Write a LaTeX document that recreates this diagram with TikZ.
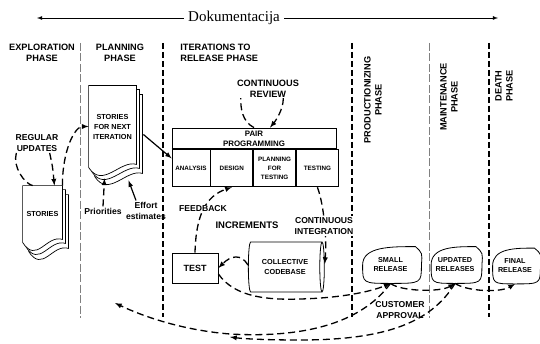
\documentclass[tikz,border=0pt]{standalone}
\usepackage{fontspec}
\setmainfont{Liberation Serif}
\setsansfont{Liberation Sans}
\usetikzlibrary{positioning}
\usetikzlibrary{shapes}
\usetikzlibrary{backgrounds}

% stacked pages with a wavy lower edge, drawn behind a node
\newcommand{\docstack}[1]{%
  \foreach \dx/\dy in {6/-9,3/-4,0/0}{
    \filldraw[fill=white,line width=0.7pt]
      ([shift={(\dx,\dy)}]#1.north west) -- ([shift={(\dx,\dy)}]#1.north east)
      -- ([shift={(\dx,\dy+3)}]#1.south east)
      .. controls ([shift={(\dx-16,\dy+8)}]#1.south east) and ([shift={(\dx+14,\dy-22)}]#1.south west)
      .. ([shift={(\dx,\dy)}]#1.south west) -- cycle;
  }}

% release outline, pointed at the upper right
\newcommand{\releaseblob}[1]{%
  \draw[line width=0.8pt] ([xshift=-3]#1.north east) .. controls (#1.north) and (#1.north west) .. (#1.west)
    .. controls (#1.south west) .. (#1.south)
    .. controls ([xshift=3]#1.south east) .. ([xshift=3]#1.east)
    .. controls ([shift={(4,12)}]#1.east) .. ([xshift=-3]#1.north east) -- cycle;}

\begin{document}
\begin{tikzpicture}[x=1pt,y=1pt,>=latex,node distance=0pt,line width=0.8pt]
\tikzstyle{phase} = [font=\sffamily\bfseries\fontsize{9.2}{11}\selectfont, align=center, inner sep=0pt]
\tikzstyle{note} = [font=\sffamily\bfseries\fontsize{8.6}{11}\selectfont, align=center, inner sep=1pt]
\tikzstyle{doctext} = [font=\sffamily\bfseries\fontsize{7.3}{10}\selectfont, align=center, inner sep=0pt]
\tikzstyle{cell} = [draw, minimum height=37, inner sep=0pt, align=center, font=\sffamily\bfseries\fontsize{6.3}{9}\selectfont]
\tikzstyle{blob} = [align=center, inner sep=0pt, minimum height=36, font=\sffamily\bfseries\fontsize{7.2}{9}\selectfont]
\tikzstyle{flow} = [dash pattern=on 7pt off 4pt, line width=1.3pt]
\tikzstyle{phaseline} = [dash pattern=on 6pt off 3pt, line width=1.4pt]

\useasboundingbox (0,0) rectangle (540,343);

% documentation
\node[fill=white, inner xsep=4pt, inner ysep=0pt, font=\fontsize{15}{15}\selectfont] (doku) at (234,325) {Dokumentacija};
\coordinate (docleft) at (37,325);
\coordinate (docright) at (498,325);
\draw[->] (doku) -- (docleft);
\draw[->] (doku) -- (docright);

% phases
\node[phase] (explore) at (42,290.5) {EXPLORATION\\PHASE};
\node[phase] (planning) at (120,290.5) {PLANNING\\PHASE};
\node[phase, anchor=west, align=left] (iterate) at (180,290.5) {ITERATIONS TO\\RELEASE PHASE};
\node[phase, rotate=90] (product) at (373,243) {PRODUCTIONIZING\\PHASE};
\node[phase, rotate=90] (maintain) at (449,246) {MAINTENANCE\\PHASE};
\node[phase, rotate=90] (death) at (504,257) {DEATH\\PHASE};
\foreach \x in {163,352,489}
  \draw[phaseline] (\x,300) -- (\x,26);
\foreach \x in {80,429}
  \draw[phaseline, gray, line width=1pt, dash pattern=on 8pt off 2.5pt] (\x,300) -- (\x,25);

% exploration
\node[doctext, minimum width=39, minimum height=56] (stories) at (42.5,129) {STORIES};
\node[note] (updates) at (37,200) {REGULAR\\UPDATES};
\draw[flow] ([xshift=2]updates.south west) .. controls +(-4,-14) and +(-8,2) .. ([xshift=10]stories.north west);
\draw[flow,->] ([xshift=-10]updates.south east) .. controls +(3,-14) .. ([xshift=-8]stories.north east);

% planning
\node[doctext, minimum width=47, minimum height=81] (plan) at (112.5,216.5) {STORIES\\FOR NEXT\\ITERATION};
\begin{scope}[on background layer]
  \docstack{stories}
  \docstack{plan}
\end{scope}
\draw[flow,->] (stories.north east) .. controls +(0,35) and +(-14,0) .. (plan.west);
\node[note] (prio) at (103,132) {Priorities};
\node[note] (effort) at (146,132.5) {Effort\\estimates};
\draw[flow,->] (prio.north) -- ([shift={(-8,-11)}]plan.south);
\draw[->, line width=1.2pt] ([xshift=-10]effort.north) -- ([shift={(16,-13)}]plan.south);

% iterations
\node[phase] (review) at (268,254) {CONTINUOUS\\REVIEW};
\node[draw, minimum width=164, minimum height=21, inner sep=0pt, align=center, font=\sffamily\bfseries\fontsize{7.9}{10}\selectfont] (pair) at (254,204.5) {PAIR\\PROGRAMMING};
\node[cell, minimum width=38, anchor=north west] (analysis) at (pair.south west) {ANALYSIS};
\node[cell, minimum width=42, right=of analysis] (design) {DESIGN};
\node[cell, minimum width=42, right=of design] (plantest) {PLANNING\\FOR\\TESTING};
\node[cell, minimum width=42, right=of plantest] (testing) {TESTING};
\draw[line width=2pt] (pair.south west) -- (pair.south east);
\draw[->, line width=1.2pt] ([shift={(7,-8)}]plan.east) -- ([yshift=10]analysis.west);
\draw[flow] (pair.north) .. controls +(-12,6) and +(0,-10) .. ([xshift=4]review.south west);
\draw[flow,->] ([xshift=-16]review.south east) .. controls +(0,-12) and +(5,6) .. ([xshift=16]pair.north);

\node[draw, minimum width=46, minimum height=30, font=\sffamily\bfseries\fontsize{9}{10}\selectfont] (test) at (195,75) {TEST};
\node[cylinder, draw, doctext, minimum height=76, minimum width=50, aspect=0.3, fill=white] (code) at (285,76) {COLLECTIVE\\CODEBASE};
\draw[flow,->] (test.north) .. controls +(1,38) and +(-26,-9) .. (design.south);
\draw[flow,->] (testing.south) .. controls +(7,-19) and +(2,24) .. ([yshift=3]code.east);
\draw[flow,->] ([yshift=2]code.west) .. controls +(-7,12) and +(12,12) .. (test.east);
\node[note, fill=white] (feedback) at (203,134) {FEEDBACK};
\node[note, font=\sffamily\bfseries\fontsize{9.5}{11}\selectfont] (increments) at (247,118) {INCREMENTS};
\node[note, fill=white] (integ) at (324,117) {CONTINUOUS\\INTEGRATION};

% releases
\node[blob, minimum width=55] (small) at (390.5,78) {SMALL\\RELEASE};
\node[blob, minimum width=47] (updated) at (455,78) {UPDATED\\RELEASES};
\node[blob, minimum width=44, minimum height=35] (final) at (515,77) {FINAL\\RELEASE};
\releaseblob{small}
\releaseblob{updated}
\releaseblob{final}
\draw[flow,->] ([yshift=-6]test.east) .. controls (235,45) and (270,43) .. (300,44) .. controls (340,45) and (370,51) .. (small.south);
\draw[flow,->] (small.south) .. controls +(10,-8) and +(-15,-9) .. (updated.south);
\draw[flow,->] (updated.south) .. controls +(12,-8) and +(-15,-9) .. (final.south);
\coordinate (planback) at (115,40);
\coordinate (iterback) at (230,6);
\draw[flow,->] (small.south) .. controls (360,18) and (300,5) .. (230,9) .. controls (180,13) and (140,28) .. (planback);
\draw[flow,->] (updated.south) .. controls (430,18) and (380,3) .. (300,3) .. controls (270,3) and (245,4) .. (iterback);
\node[note] (approval) at (400,33) {CUSTOMER\\APPROVAL};
\end{tikzpicture}
\end{document}
